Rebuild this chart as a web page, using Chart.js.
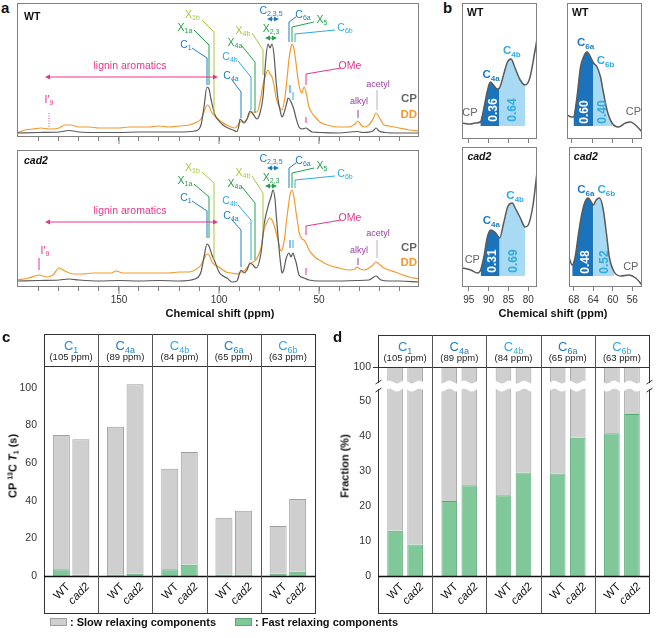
<!DOCTYPE html>
<html>
<head>
<meta charset="utf-8">
<script src="https://cdn.jsdelivr.net/npm/chart.js@4.4.1/dist/chart.umd.min.js"></script>
<style>
  body { margin: 0; background: #fff; font-family: "Liberation Sans", Arial, sans-serif; }
  #fig { position: relative; width: 658px; height: 638px; overflow: hidden; }
  canvas { position: absolute; }
  .t { position: absolute; white-space: nowrap; color: #111; line-height: 1; z-index: 5; }
  .b { font-weight: bold; }
  .rot { transform: translate(-50%, -50%) rotate(-90deg); }
  .sw { position: absolute; width: 15px; height: 6px; z-index: 5; }
  .s { font-size: 7px; position: relative; }
</style>
</head>
<body>
<div id="fig">
  <div class="t b" style="left:1px;top:0px;font-size:15px">a</div>
  <div class="t b" style="left:443px;top:0px;font-size:15px">b</div>
  <div class="t b" style="left:2px;top:329px;font-size:15px">c</div>
  <div class="t b" style="left:333px;top:329px;font-size:15px">d</div>
  <div class="t b" style="left:220px;top:313px;font-size:11px;transform:translate(-50%,-50%)">Chemical shift (ppm)</div>
  <div class="t b" style="left:553px;top:313px;font-size:11px;transform:translate(-50%,-50%)">Chemical shift (ppm)</div>
  <div class="t b rot" style="left:13px;top:466px;font-size:11px">CP <span class="s" style="top:-4px">13</span>C <i>T</i><span class="s" style="top:2px">1</span> (s)</div>
  <div class="t b rot" style="left:345px;top:466px;font-size:11px">Fraction (%)</div>
  <div class="sw" style="left:50px;top:618px;background:#cfcfcf;border:1px solid #9f9f9f"></div>
  <div class="t b" style="left:70px;top:617px;font-size:11px">: Slow relaxing components</div>
  <div class="sw" style="left:235px;top:618px;background:#80c89a;border:1px solid #5aa878"></div>
  <div class="t b" style="left:255px;top:617px;font-size:11px">: Fast relaxing components</div>
</div>
<script>
// ---- panel a : 13C spectra (ppm / relative intensity) ----
const wtCpPpm = [201,190,180,175,170,160,150,140,130,120,112,109,107.5,106,105,104,102,100,98,95.5,93,91,90,89.5,88.5,87.5,86,84.5,83,81,79.5,78,76.5,75.5,74.5,73.5,72.5,71.5,70.5,69.5,68.5,67.5,66,65.5,64.5,63.5,62.5,61.5,60,58.5,56.5,55,53.5,50,40,31,28,23,21.5,20,17,10,0];
const wtCp = [4,4.5,5,6.5,5,4.5,4.5,5,5,5,6,12,30,50,48,38,22,16,12,9,7,5.5,12,18,16,14,18,26,23,18,24,40,80,93,89,93,82,57,38,27,20,24,35,39,37,33,27,19,10,8,9,7,5,4.5,4,5.5,4.5,6,9,6,4.5,4,4];
const wtDdPpm = [201,197,193,189,185,180,177,174,170,165,160,155,150,145,140,135,130,125,120,115,112,109,107.5,106,105,103.5,102,100,98,96,94,92,90.5,89.5,88,86,84.5,82.5,81,79.5,78,76.5,75.5,74.5,73.5,72.5,71.5,70.5,69.5,68.5,67,66,65,64,63.5,62.5,61.5,60.5,60,59,58.5,57.5,56.5,55,53.5,51.5,49.5,47.5,44,40,35,32,30.5,29,27.5,25,23,21.5,20,17.5,15,10,5,0];
const wtDd = [4,7,8,9,8,9,12,12,10,10,9,9,9,10,10,10,11,10,11,12,14,18,25,32,31,24,21,17,14,12,10,9,12,15,15,18,24,25,25,35,52,63,67,63,60,52,40,33,29,27,40,58,78,90,93,88,74,58,52,45,44,50,45,30,24,19,15,13,11,10,10,13,16,12,10,12,18,24,20,12,11,9,7,6];
const cadCpPpm = [201,190,180,175,170,160,150,140,130,120,112,109,107.5,106,105,103.5,102,100,98,96,93.5,91,90,89,87.5,86,84.5,83,81.5,79,77.5,75,74,73,72,71.5,70,69,68.5,67.5,66.5,65,64,63,62,61.5,60,57.5,55,50,40,31,25,21.5,19,15,10,0];
const cadCp = [6,6.5,7,8,7,6,6.5,6,6.5,6,8,15,30,43,41,32,25,15,11,9,5,6,12,17,14,17,24,22,19,34,62,84,90,97,88,75,39,20,14,18,28,34,30,34,28,25,12,9,7,6,6,6.5,7,11,7,6,6,5];
const cadDdPpm = [201,195,190,186,183,180,177,173,168,163,158,154,151.5,148,140,135,130,125,120,115,112,109,107.5,106,105,103.5,102,100,98,96.5,93.5,91,89,87.5,86,84.5,83,81.5,79,77.5,76,74.5,73.5,72.5,71.5,70.5,69,68,67,66.5,65.5,64.5,63.5,62.5,61.5,60.5,60,58.5,57.5,56.5,55,53,51.5,49,47.5,44,40,35,32,31,29.5,27.5,25,23,21.5,20,17.5,15,12,8,5,0];
const cadDd = [7,9,12,10,12,19,16,13,13,14,14,14,16,14,14,14,14,14,15,15,17,22,28,33,32,25,22,20,17,15,14,13,15,16,19,23,25,27,39,57,65,69,67,62,55,47,36,40,52,62,78,92,97,90,75,62,55,48,47,44,37,32,29,26,24,21,19,17,18,20,18,17,19,22,25,23,19,17,15,12,10,8];
const aTicks = [10,20,30,40,50,60,70,80,90,100,110,120,130,140,150,160,170,180,190];
const aTickLabels = [50,100,150];

// ---- panel b : deconvoluted CP regions ----
const b1Ppm = [96.6,94.5,93.3,92,91.2,90.3,89.5,88.7,87.8,87.2,86.2,85.2,84.3,83.3,82,80.8,79.6,78.4,77.8];
const b1Int = [17,16,17,18,30,48,58,55,51,52,65,78,81,72,60,55,62,87,101];
const b2Ppm = [69,68,67.7,67,66.3,65.7,65,64.3,63.7,63,62.3,61.7,61,60,58.7,57.3,56.3,55.3,54];
const b2Int = [25,23,23,43,73,83,88,83,77,73,63,47,30,17,13,17,18,15,8];
const b3Ppm = [96.6,94.5,92.8,92,91.2,90.3,89.5,88.2,87.2,86.2,85.2,84,83.3,82,80.8,80,78.8,77.8];
const b3Int = [19,17,14,17,30,50,57,54,49,64,80,84,79,69,60,62,82,115];
const b4Ppm = [69,68.3,67.7,67,66.3,65.7,65,64.3,64,63.4,62.7,62,61.3,60.7,59.7,58.3,56.7,55.3,54];
const b4Int = [30,22,30,54,74,85,89,84,82,87,89,79,54,30,15,11,12,9,2];
const b4aTicks = [95,90,85,80];
const b6Ticks = [68,64,60,56];
const bFractions = [['0.36','0.64'],['0.60','0.40'],['0.31','0.69'],['0.48','0.52']];

// ---- panels c, d : relaxation ----
const groupSub = ['1','4a','4b','6a','6b'];
const groupPpm = ['(105 ppm)','(89 ppm)','(84 ppm)','(65 ppm)','(63 ppm)'];
const samples = ['WT','cad2'];
const t1FastWT = [3.6,0.8,3.6,0.8,1.2];
const t1SlowWT = [71.4,78.6,53.4,30.2,25.4];
const t1FastCad2 = [0.7,1.2,6.0,0.8,2.3];
const t1SlowCad2 = [72.0,100.8,60.0,33.9,38.7];
const fracFastWT = [12.9,21.4,23.1,29.3,40.8];
const fracSlowWT = [87.1,78.6,76.9,70.7,59.2];
const fracFastCad2 = [9.0,25.9,29.6,39.5,46.3];
const fracSlowCad2 = [91.0,74.1,70.4,60.5,53.7];
const cTicks = [0,20,40,60,80,100];
const dTicks = [0,10,20,30,40,50];

const FONT = '"Liberation Sans", Arial, sans-serif';
const BLUE = '#1f7cc2', LBLUE = '#2eaae1', GREEN = '#26a04a', LGREEN = '#a6c83c';
const MAG = '#e8338f', PURP = '#9a3e9c', LPURP = '#cfa3d3';
const CPC = '#5a5a5a', DDC = '#f29a2e';
const GRAYBAR = '#cfcfcf', GRAYEDGE = '#9f9f9f', GREENBAR = '#80c89a', GREENEDGE = '#5aa878';

// annotation text for panel a: main, sub, colour, ppm, y(WT), y(cad2)
const aLabels = [
  ['X','1b',LGREEN,113.3,123,120],
  ['X','1a',GREEN,117,110,107],
  ['C','1',BLUE,116.5,93,90],
  ['C','4a',BLUE,94,62,72],
  ['C','4b',LBLUE,94.5,81,87],
  ['X','4a',GREEN,92,95,104],
  ['X','4b',LGREEN,88,107,115],
  ['C','2,3,5',BLUE,74,127,129],
  ['X','2,3',GREEN,74,109,110],
  ['C','6a',BLUE,58,123,127],
  ['X','5',GREEN,48.5,118,122],
  ['C','6b',LBLUE,37,110,114]
];
const aLines = [
  [LGREEN, [[108.5,117,115],[102.5,105,104],[102.5,22,27]]],
  [GREEN, [[112.5,107,103],[105,92,90],[105,52,49]]],
  [BLUE, [[113.5,89,86],[106,79,76],[106,52,49]]],
  [BLUE, [[93.5,57,67],[89,45,57],[89,19,20]]],
  [LBLUE, [[90.5,76,82],[84,60,67],[84,27,27]]],
  [GREEN, [[88.5,91,100],[82,75,84],[82,24,27]]],
  [LGREEN, [[83.5,104,111],[78,87,94],[78,62,57]]],
  [BLUE, [[61.5,120,124],[65,115,119],[65,95,99]]],
  [GREEN, [[52.5,115,119],[63.5,110,114],[63.5,95,99]]],
  [LBLUE, [[42,107,111],[62,103,107],[62,95,99]]],
  [BLUE, [[64.5,52,47],[64.5,44,39]]],
  [LBLUE, [[63,45,47],[63,37,39]]],
  [MAG, [[39,69,67],[56.5,63,61],[56.5,52,52]]],
  [MAG, [[56.5,20,19],[56.5,14,12]]],
  [PURP, [[30.5,27,29],[30.5,19,22]]],
  [LPURP, [[21,47,47],[21,27,29]]]
];

function mk(l, t, w, h) {
  const c = document.createElement('canvas');
  c.width = w; c.height = h;
  c.style.left = l + 'px'; c.style.top = t + 'px';
  c.style.width = w + 'px'; c.style.height = h + 'px';
  document.getElementById('fig').appendChild(c);
  return c;
}
function pts(px, py) { return px.map((p, i) => ({ x: p, y: py[i] })); }

function txt(ctx, s, x, y, size, color, opt) {
  opt = opt || {};
  ctx.save();
  ctx.font = (opt.italic ? 'italic ' : '') + (opt.bold ? 'bold ' : '') + size + 'px ' + FONT;
  ctx.fillStyle = color; ctx.textAlign = opt.align || 'center'; ctx.textBaseline = 'middle';
  ctx.fillText(s, x, y);
  ctx.restore();
}
function subTxt(ctx, main, s, x, y, size, color, align, bold) {
  const w = bold ? 'bold ' : '';
  const ss = Math.round(size * 0.7);
  ctx.save();
  ctx.font = w + size + 'px ' + FONT;
  const w1 = ctx.measureText(main).width;
  ctx.font = w + ss + 'px ' + FONT;
  const w2 = ctx.measureText(s).width;
  const x0 = align === 'left' ? x : align === 'right' ? x - w1 - w2 : x - (w1 + w2) / 2;
  const base = y + size * 0.36;
  ctx.fillStyle = color; ctx.textAlign = 'left'; ctx.textBaseline = 'alphabetic';
  ctx.font = w + size + 'px ' + FONT;
  ctx.fillText(main, x0, base);
  ctx.font = w + ss + 'px ' + FONT;
  ctx.fillText(s, x0 + w1, base + size * 0.25);
  ctx.restore();
}
function line(ctx, p, color, width, dash) {
  ctx.save();
  ctx.strokeStyle = color; ctx.lineWidth = width || 1;
  if (dash) ctx.setLineDash(dash);
  ctx.beginPath();
  p.forEach((q, i) => i ? ctx.lineTo(q[0], q[1]) : ctx.moveTo(q[0], q[1]));
  ctx.stroke();
  ctx.restore();
}
function arrow(ctx, x1, x2, y, color) {
  const h = 5;
  line(ctx, [[x1 + 2, y], [x2 - 2, y]], color, 1);
  ctx.save(); ctx.fillStyle = color;
  [[x1, 1], [x2, -1]].forEach(([x, d]) => {
    ctx.beginPath(); ctx.moveTo(x, y); ctx.lineTo(x + d * h, y - 2.6); ctx.lineTo(x + d * h, y + 2.6); ctx.closePath(); ctx.fill();
  });
  ctx.restore();
}
function frame(ctx, a, color) {
  ctx.save(); ctx.strokeStyle = color; ctx.lineWidth = 1;
  ctx.strokeRect(Math.round(a.left) + 0.5, Math.round(a.top) + 0.5, Math.round(a.right - a.left) - 1, Math.round(a.bottom - a.top) - 1);
  ctx.restore();
}

function specDecor(k) {
  return {
    id: 'specDecor' + k,
    afterDraw(chart) {
      const { ctx, chartArea: a, scales: { x, y } } = chart;
      const X = v => x.getPixelForValue(v), Y = v => y.getPixelForValue(v);
      frame(ctx, a, '#808080');
      aTickLabels.forEach(v => line(ctx, [[X(v), a.bottom], [X(v), a.bottom + 7]], '#808080', 1));
      aLines.forEach(([c, p]) => line(ctx, p.map(q => [X(q[0]), Y(q[1 + k])]), c, 1));
      aLabels.forEach(l => subTxt(ctx, l[0], l[1], X(l[3]), Y(l[4 + k]), 10.5, l[2], 'center'));
      // lignin aromatics
      txt(ctx, 'lignin aromatics', X(144.5), Y(k ? 76 : 71), 10.5, MAG);
      arrow(ctx, X(187), X(100.5), Y(k ? 65 : 60), MAG);
      arrow(ctx, X(76), X(70), Y(k ? 119 : 118), BLUE);
      arrow(ctx, X(77), X(71), Y(k ? 101 : 99), GREEN);
      // I'9
      if (k) {
        subTxt(ctx, 'I\u2032', '9', X(187), Y(37), 10.5, MAG, 'center');
        line(ctx, [[X(190), Y(29)], [X(190), Y(17)]], MAG, 1);
      } else {
        subTxt(ctx, 'I\u2032', '9', X(185), Y(38), 10.5, MAG, 'center');
        line(ctx, [[X(185), Y(24)], [X(185), Y(10)]], MAG, 1, [1, 1.5]);
      }
      txt(ctx, 'OMe', X(34.5), Y(k ? 69 : 71), 10.5, MAG);
      txt(ctx, 'alkyl', X(30), Y(k ? 36 : 35), 9, PURP);
      txt(ctx, 'acetyl', X(20.5), Y(k ? 53 : 52), 9, PURP);
      txt(ctx, 'CP', a.right - 2, Y(k ? 39 : 38), 11.5, '#666', { bold: true, align: 'right' });
      txt(ctx, 'DD', a.right - 2, Y(k ? 24 : 22), 11.5, DDC, { bold: true, align: 'right' });
      txt(ctx, k ? 'cad2' : 'WT', a.left + 7, a.top + (k ? 11 : 14), 10.5, '#111', { bold: true, italic: !!k, align: 'left' });
    }
  };
}

function specChart(k, top, h, padTop, axisH, cp, cpPpm, dd, ddPpm, ymax) {
  const cv = mk(13, top, 410, h);
  return new Chart(cv, {
    type: 'line',
    data: {
      datasets: [
        { data: pts(cpPpm, cp), borderColor: CPC, borderWidth: 1.2, pointRadius: 0, cubicInterpolationMode: 'monotone', fill: false },
        { data: pts(ddPpm, dd), borderColor: DDC, borderWidth: 1.2, pointRadius: 0, cubicInterpolationMode: 'monotone', fill: false }
      ]
    },
    options: {
      responsive: false, animation: false, events: [],
      layout: { padding: { left: 4, right: 4, top: padTop, bottom: 0 } },
      plugins: { legend: { display: false }, tooltip: { enabled: false } },
      scales: {
        x: {
          type: 'linear', reverse: true, min: 0, max: 201,
          afterBuildTicks: s => { s.ticks = aTicks.map(v => ({ value: v })); },
          afterFit: s => { s.height = axisH; },
          grid: { drawOnChartArea: false, tickLength: 4, color: '#808080' },
          border: { display: false },
          ticks: { display: k === 1, autoSkip: false, maxRotation: 0, padding: 3, color: '#333', font: { size: 10, family: FONT },
                   callback: v => aTickLabels.includes(v) ? String(v) : '' }
        },
        y: { display: false, min: 0, max: ymax }
      }
    },
    plugins: [specDecor(k)]
  });
}

specChart(0, 0, 150, 3, 13, wtCp, wtCpPpm, wtDd, wtDdPpm, 134);
specChart(1, 145, 165, 5, 23, cadCp, cadCpPpm, cadDd, cadDdPpm, 137);

// panel b
function bDecor(o) {
  return {
    id: 'bDecor',
    afterDraw(chart) {
      const { ctx, chartArea: a, scales: { x, y } } = chart;
      const X = v => x.getPixelForValue(v), Y = v => y.getPixelForValue(v);
      frame(ctx, a, '#808080');
      txt(ctx, o.name, a.left + 5, a.top + 10, 10.5, '#111', { bold: true, italic: o.name !== 'WT', align: 'left' });
      o.vals.forEach((v, i) => {
        ctx.save(); ctx.translate(X(o.valPos[i][0]), Y(o.valPos[i][1])); ctx.rotate(-Math.PI / 2);
        ctx.font = 'bold 12px ' + FONT; ctx.fillStyle = i ? LBLUE : '#fff';
        ctx.textAlign = 'center'; ctx.textBaseline = 'middle'; ctx.fillText(v, 0, 0); ctx.restore();
      });
      o.peaks.forEach((p, i) => subTxt(ctx, 'C', p[0], X(p[1]), Y(p[2]), 11.5, i ? LBLUE : BLUE, 'center', true));
      txt(ctx, 'CP', X(o.cp[0]), Y(o.cp[1]), 11, '#666');
    }
  };
}
function bChart(l, t, h, padTop, axisH, o) {
  const cv = mk(l, t, 80, h);
  const sub = (lo, hi) => pts(o.ppm, o.inten).filter(q => q.x <= hi && q.x >= lo);
  const ds = (data, color) => ({ data, borderColor: 'transparent', borderWidth: 0, backgroundColor: color, pointRadius: 0,
                                  cubicInterpolationMode: 'monotone', fill: { value: o.base } });
  return new Chart(cv, {
    type: 'line',
    data: {
      datasets: [
        { data: pts(o.ppm, o.inten), borderColor: '#5a5a5a', borderWidth: 1.5, pointRadius: 0, cubicInterpolationMode: 'monotone', fill: false },
        ds(sub(o.split[1], o.split[0]), '#1b74bb'),
        ds(sub(o.split[2], o.split[1]), '#a8daf3')
      ]
    },
    options: {
      responsive: false, animation: false, events: [],
      layout: { padding: { left: 2, right: 3, top: padTop, bottom: 0 } },
      plugins: { legend: { display: false }, tooltip: { enabled: false } },
      scales: {
        x: {
          type: 'linear', reverse: true, min: o.min, max: o.max,
          afterBuildTicks: s => { s.ticks = o.ticks.map(v => ({ value: v })); },
          afterFit: s => { s.height = axisH; },
          grid: { drawOnChartArea: false, tickLength: 4, color: '#808080' },
          border: { display: false },
          ticks: { display: o.labels, autoSkip: false, maxRotation: 0, padding: 3, color: '#333', font: { size: 10, family: FONT } }
        },
        y: { display: false, min: o.ymin, max: o.ymax }
      }
    },
    plugins: [bDecor(o)]
  });
}
bChart(460, 0, 150, 3, 11, { name: 'WT', ppm: b1Ppm, inten: b1Int, split: [92, 87.2, 80.8], base: 14, min: 77.8, max: 96.6, ymin: 1, ymax: 137,
  ticks: b4aTicks, labels: false, vals: bFractions[0], valPos: [[88.7, 30], [83.8, 30]], peaks: [['4a', 89.3, 66], ['4b', 84.1, 90]], cp: [94.6, 27] });
bChart(565, 0, 150, 3, 11, { name: 'WT', ppm: b2Ppm, inten: b2Int, split: [67.7, 63.7, 60], base: 14, min: 54, max: 69, ymin: 1, ymax: 137,
  ticks: b6Ticks, labels: false, vals: bFractions[1], valPos: [[65.5, 28], [61.9, 28]], peaks: [['6a', 65.3, 98], ['6b', 61.3, 80]], cp: [55.7, 28] });
bChart(460, 144, 166, 3, 23, { name: 'cad2', ppm: b3Ppm, inten: b3Int, split: [92, 87.2, 80.8], base: 11, min: 77.8, max: 96.6, ymin: 0, ymax: 140,
  ticks: b4aTicks, labels: true, vals: bFractions[2], valPos: [[88.9, 26], [83.7, 26]], peaks: [['4a', 89.3, 67], ['4b', 83.3, 92]], cp: [94.1, 27] });
bChart(565, 144, 166, 3, 23, { name: 'cad2', ppm: b4Ppm, inten: b4Int, split: [68.3, 64, 59.7], base: 11, min: 54, max: 69, ymin: 0, ymax: 140,
  ticks: b6Ticks, labels: true, vals: bFractions[3], valPos: [[65.6, 25], [61.7, 25]], peaks: [['6a', 65.5, 98], ['6b', 61.3, 98]], cp: [56.3, 20] });

// panels c, d
const headColors = ['#2a8acb', BLUE, LBLUE, BLUE, LBLUE];
function barDecor(isD) {
  return {
    id: 'barDecor',
    afterDraw(chart) {
      const { ctx, chartArea: a, scales: { x, y } } = chart;
      const top = a.top - 32, bot = a.bottom + 37;
      if (isD) {
        const y1 = y.getPixelForValue(55.4), y2 = y.getPixelForValue(53.1);
        ctx.save(); ctx.fillStyle = '#fff'; ctx.beginPath();
        for (let xx = a.left + 1; xx <= a.right - 1; xx++) {
          const yy = y1 + 1.4 * Math.sin((xx - a.left) / 15 * 2 * Math.PI);
          xx === a.left + 1 ? ctx.moveTo(xx, yy) : ctx.lineTo(xx, yy);
        }
        for (let xx = a.right - 1; xx >= a.left + 1; xx--) {
          ctx.lineTo(xx, y2 + 1.4 * Math.sin((xx - a.left) / 15 * 2 * Math.PI));
        }
        ctx.closePath(); ctx.fill(); ctx.restore();
      }
      ctx.save();
      ctx.strokeStyle = '#333'; ctx.lineWidth = 1;
      ctx.strokeRect(Math.round(a.left) + 0.5, top + 0.5, Math.round(a.right - a.left), bot - top);
      ctx.restore();
      line(ctx, [[a.left - (isD ? 5 : 0), Math.round(a.top) + 0.5], [a.right, Math.round(a.top) + 0.5]], '#333', 1);
      line(ctx, [[a.left, Math.round(a.bottom) + 0.5], [a.right, Math.round(a.bottom) + 0.5]], '#111', 1.4);
      for (let i = 0; i < 4; i++) {
        const xm = Math.round((x.getPixelForValue(i) + x.getPixelForValue(i + 1)) / 2) + 0.5;
        line(ctx, [[xm, top], [xm, bot]], '#555', 1);
      }
      for (let i = 0; i < 5; i++) {
        const cx = x.getPixelForValue(i);
        subTxt(ctx, 'C', groupSub[i], cx, a.top - 21, 13, headColors[i], 'center');
        txt(ctx, groupPpm[i], cx, a.top - 9, 9.5, '#222');
        [0, 2].forEach((d, j) => {
          const bx = chart.getDatasetMeta(d).data[i].x;
          ctx.save(); ctx.translate(bx + 7, a.bottom + 9); ctx.rotate(-Math.PI / 4);
          ctx.font = (j ? 'italic ' : '') + '11.5px ' + FONT; ctx.fillStyle = '#111';
          ctx.textAlign = 'right'; ctx.textBaseline = 'middle'; ctx.fillText(samples[j], 0, 0); ctx.restore();
        });
      }
      if (isD) {
        const y1 = y.getPixelForValue(55.4), y2 = y.getPixelForValue(53.1);
        [a.left, a.right].forEach(ex => {
          const xe = Math.round(ex) + 0.5;
          ctx.save(); ctx.fillStyle = '#fff'; ctx.fillRect(xe - 2, y1 + 1, 4, y2 - y1 - 2); ctx.restore();
          line(ctx, [[xe - 3, y1 + 2], [xe + 3, y1 - 2]], '#333', 1);
          line(ctx, [[xe - 3, y2 + 2], [xe + 3, y2 - 2]], '#333', 1);
        });
      }
    }
  };
}
function barChart(l, w, yW, padR, padT, fastWT, slowWT, fastCad, slowCad, ymax, ticks, catPct, barPct, isD) {
  const cv = mk(l, 320, w, 300);
  const bar = (data, stack, fast) => ({ data, stack, backgroundColor: fast ? GREENBAR : GRAYBAR,
    borderColor: fast ? GREENEDGE : GRAYEDGE, borderWidth: 1, categoryPercentage: catPct, barPercentage: barPct });
  return new Chart(cv, {
    type: 'bar',
    data: {
      labels: groupSub.map(s => 'C' + s),
      datasets: [bar(fastWT, 'WT', true), bar(slowWT, 'WT', false), bar(fastCad, 'cad2', true), bar(slowCad, 'cad2', false)]
    },
    options: {
      responsive: false, animation: false, events: [],
      layout: { padding: { left: 0, right: padR, top: padT, bottom: 44 } },
      plugins: { legend: { display: false }, tooltip: { enabled: false } },
      scales: {
        x: { display: false, stacked: true },
        y: {
          stacked: true, min: 0, max: ymax,
          afterBuildTicks: s => { s.ticks = ticks.map(v => ({ value: v })); },
          afterFit: s => { s.width = yW; },
          grid: { display: false, drawTicks: false }, border: { display: false },
          ticks: { padding: 7, color: '#333', font: { size: 10.5, family: FONT },
                   callback: v => (isD && v > 55) ? '100' : String(v) }
        }
      }
    },
    plugins: [barDecor(isD)]
  });
}
barChart(0, 330, 44, 15, 46, t1FastWT, t1SlowWT, t1FastCad2, t1SlowCad2, 111.7, cTicks, 0.72, 0.87, false);
barChart(330, 328, 48, 9, 47, fracFastWT, fracSlowWT, fracFastCad2, fracSlowCad2, 59.7, dTicks.concat([59.7]), 0.74, 0.78, true);
</script>
</body>
</html>
